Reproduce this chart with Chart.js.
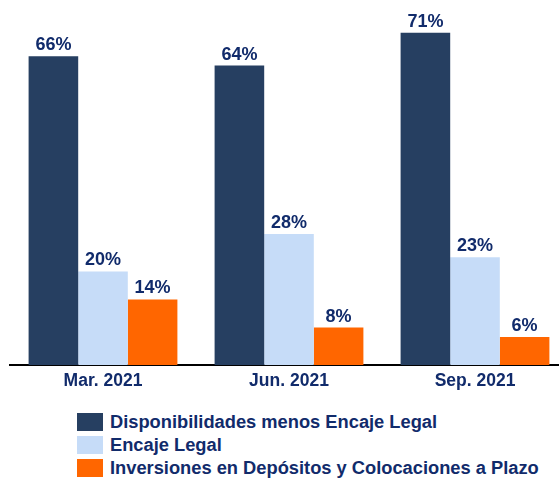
<!DOCTYPE html>
<html><head><meta charset="utf-8">
<script src="https://cdn.jsdelivr.net/npm/chart.js@4"></script>
<style>
html,body{margin:0;padding:0;background:#fff;overflow:hidden;width:559px;height:478px;}
#wrap{position:absolute;left:0;top:0;width:570px;height:398px;}
#legend{position:absolute;left:77px;top:410px;font:bold 18.3px "Liberation Sans",Arial,sans-serif;color:#112b6b;}
.item{height:23px;display:flex;align-items:center;white-space:nowrap;}
.sw{width:26px;height:18px;margin-right:7px;flex:none;}
</style></head>
<body>
<div id="wrap"><canvas id="c" width="570" height="398"></canvas></div>
<div id="legend"></div>
<script>
const categories = ["Mar. 2021", "Jun. 2021", "Sep. 2021"];
const seriesNames = ["Disponibilidades menos Encaje Legal", "Encaje Legal", "Inversiones en Depósitos y Colocaciones a Plazo"];
const disponibilidades = [66, 64, 71];
const encajeLegal = [20, 28, 23];
const inversiones = [14, 8, 6];
const colors = ["#263f61", "#c6dcf8", "#ff6600"];
const textColor = "#112b6b";
const FONT = '"Liberation Sans", Arial, sans-serif';

const valueLabels = {
  id: 'valueLabels',
  afterDatasetsDraw(chart) {
    const ctx = chart.ctx;
    ctx.save();
    ctx.font = 'bold 18px ' + FONT;
    ctx.fillStyle = textColor;
    ctx.textAlign = 'center';
    ctx.textBaseline = 'alphabetic';
    chart.data.datasets.forEach((ds, i) => {
      chart.getDatasetMeta(i).data.forEach((bar, j) => {
        ctx.fillText(ds.data[j] + '%', bar.x, bar.y - 6);
      });
    });
    ctx.restore();
  }
};

const chart = new Chart(document.getElementById('c'), {
  type: 'bar',
  data: {
    labels: categories,
    datasets: [
      { label: seriesNames[0], data: disponibilidades, backgroundColor: colors[0] },
      { label: seriesNames[1], data: encajeLegal, backgroundColor: colors[1] },
      { label: seriesNames[2], data: inversiones, backgroundColor: colors[2] }
    ]
  },
  options: {
    responsive: false,
    animation: false,
    layout: { padding: { left: 10, right: 2, top: 0, bottom: 0 } },
    datasets: { bar: { categoryPercentage: 0.8, barPercentage: 1.0 } },
    plugins: { legend: { display: false }, tooltip: { enabled: false } },
    scales: {
      y: { display: false, min: 0, max: 78 },
      x: {
        grid: { display: false, drawTicks: false, tickLength: 0 },
        border: { display: true, color: '#000', width: 2 },
        ticks: { color: textColor, font: { family: FONT, size: 17.5, weight: 'bold' }, padding: 6 }
      }
    }
  },
  plugins: [valueLabels]
});

const leg = document.getElementById('legend');
seriesNames.forEach((n, i) => {
  const d = document.createElement('div'); d.className = 'item';
  const s = document.createElement('span'); s.className = 'sw'; s.style.background = colors[i];
  const t = document.createElement('span'); t.textContent = n;
  d.appendChild(s); d.appendChild(t); leg.appendChild(d);
});
</script>
</body></html>
